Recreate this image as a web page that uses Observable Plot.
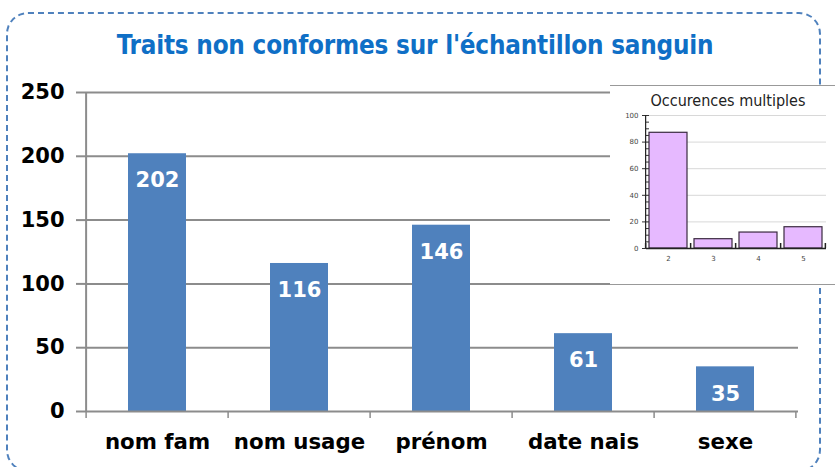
<!DOCTYPE html>
<html>
<head>
<meta charset="utf-8">
<script src="https://cdn.jsdelivr.net/npm/d3@7"></script>
<script src="https://cdn.jsdelivr.net/npm/@observablehq/plot@0.6"></script>
<style>
  html, body { margin: 0; padding: 0; background: #fff; }
  #wrap { position: relative; width: 835px; height: 467px; overflow: hidden; background: #fff; }
  #frame { position: absolute; left: 6px; top: 12px; width: 815px; height: 460px;
           border: 2.5px dashed #4f81bd; border-radius: 22px; box-sizing: border-box; }
  #title { position: absolute; left: 0; width: 830px; top: 30px; text-align: center;
           font-family: "DejaVu Sans Condensed", "DejaVu Sans", sans-serif; font-weight: bold;
           font-size: 25.8px; color: #0f6fc6; letter-spacing: -0.2px; }
  #main { position: absolute; left: 0; top: 0; }
  #inset { position: absolute; left: 610px; top: 85px; width: 225px; height: 200px; background: #fff;
           border-top: 1px solid #999; border-bottom: 1px solid #999; box-sizing: border-box; }
  #insetTitle { position: absolute; left: 18px; width: 200px; top: 5px; text-align: center;
           font-family: "DejaVu Sans Condensed", "DejaVu Sans", sans-serif; font-size: 16px; color: #222; }
  #insetPlot { position: absolute; left: 0; top: -1px; }
</style>
</head>
<body>
<div id="wrap">
  <div id="main"></div>
  <div id="frame"></div>
  <div id="title">Traits non conformes sur l'échantillon sanguin</div>
  <div id="inset"><div id="insetPlot"></div><div id="insetTitle">Occurences multiples</div></div>
</div>
<script>
// Main chart data
const categories = ["nom fam", "nom usage", "prénom", "date nais", "sexe"];
const counts = [202, 116, 146, 61, 35];
const yTicks = [0, 50, 100, 150, 200, 250];

// Inset data
const occKeys = ["2", "3", "4", "5"];
const occValues = [87, 7, 12, 16];
const occTicks = [0, 20, 40, 60, 80, 100];
const occMinor = d3.range(0, 101, 5);

const mainData = categories.map((c, i) => ({cat: c, value: counts[i]}));
const occData = occKeys.map((k, i) => ({k, value: occValues[i]}));

// band boundary ticks drawn from the x scale
function bandBoundaries(len, dir, color) {
  return (index, scales, values, dims) => {
    const x = scales.x, y = scales.y;
    const step = x.step();
    const pi = x.paddingInner();
    const g = d3.create("svg:g");
    const y0 = y(0);
    const cats = x.domain();
    const xs = cats.map(c => x(c) - step * pi / 2);
    xs.push(x(cats[cats.length - 1]) + x.bandwidth() + step * pi / 2);
    for (const xv of xs) {
      g.append("line").attr("x1", xv).attr("x2", xv).attr("y1", y0).attr("y2", y0 + dir * len)
        .attr("stroke", color).attr("stroke-width", 1.5);
    }
    return g.node();
  };
}

// vertical axis line drawn from the scales
function yAxisLine(color, w) {
  return (index, scales) => {
    const x = scales.x, y = scales.y;
    const cats = x.domain();
    const step = x.step(), pi = x.paddingInner();
    const x0 = x(cats[0]) - step * pi / 2;
    const [d0, d1] = y.domain();
    return d3.create("svg:line").attr("x1", x0).attr("x2", x0).attr("y1", y(d0)).attr("y2", y(d1))
      .attr("stroke", color).attr("stroke-width", w).node();
  };
}

const main = Plot.plot({
  width: 835, height: 467,
  marginLeft: 85, marginRight: 37, marginTop: 92, marginBottom: 56,
  style: {fontFamily: "'DejaVu Sans', sans-serif", background: "transparent"},
  x: {domain: categories, paddingInner: 0.59, paddingOuter: 0.295, label: null},
  y: {domain: [0, 250], label: null},
  marks: [
    Plot.ruleY(yTicks.filter(d => d > 0), {stroke: "#8c8c8c", strokeWidth: 2, strokeOpacity: 1}),
    Plot.axisY({ticks: yTicks, tickSize: 9, tickPadding: 12, stroke: "#8c8c8c", strokeWidth: 2,
      fontSize: 21, fontWeight: "bold", fill: "#000", label: null, tickFormat: d => d}),
    yAxisLine("#8c8c8c", 2),
    Plot.barY(mainData, {x: "cat", y: "value", fill: "#4f81bd"}),
    Plot.text(mainData, {x: "cat", y: "value", text: d => String(d.value), dy: 27,
      fill: "#fff", fontSize: 21, fontWeight: "bold"}),
    Plot.ruleY([0], {stroke: "#8c8c8c", strokeWidth: 2}),
    bandBoundaries(7, 1, "#8c8c8c"),
    Plot.axisX({tickSize: 0, tickPadding: 22, fontSize: 21.3, fontWeight: "bold", fill: "#000", label: null})
  ]
});
document.getElementById("main").appendChild(main);

const inset = Plot.plot({
  width: 225, height: 200,
  marginLeft: 36, marginRight: 9, marginTop: 30, marginBottom: 37,
  style: {fontFamily: "'DejaVu Sans', sans-serif", background: "transparent"},
  x: {domain: occKeys, paddingInner: 0.15, paddingOuter: 0.075, label: null},
  y: {domain: [0, 100], label: null},
  marks: [
    Plot.ruleY(occTicks.filter(d => d > 0), {stroke: "#d8d8d8", strokeWidth: 1}),
    Plot.barY(occData, {x: "k", y: "value", fill: "#e6b9ff", stroke: "#3a2a40", strokeWidth: 1.2}),
    Plot.axisY({ticks: occTicks, tickSize: 4, tickPadding: 4, fontSize: 7, fill: "#444", stroke: "#333", label: null}),
    Plot.axisY({ticks: occMinor, tickSize: -3, tickFormat: () => "", stroke: "#333", label: null}),
    yAxisLine("#222", 1.2),
    Plot.ruleY([0], {stroke: "#222", strokeWidth: 1.5}),
    bandBoundaries(-5, 1, "#222"),
    Plot.axisX({tickSize: 0, tickPadding: 8, fontSize: 7, fill: "#444", label: null})
  ]
});
document.getElementById("insetPlot").appendChild(inset);
</script>
</body>
</html>
